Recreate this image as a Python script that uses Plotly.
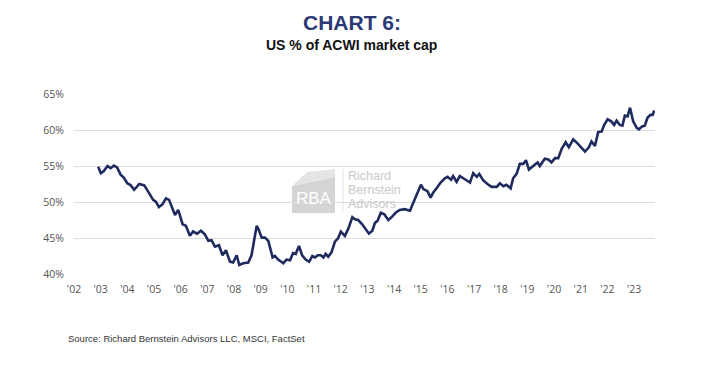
import plotly.graph_objects as go

# ---- data ----
dates = [
    "2002-11-28", "2003-01-04", "2003-02-14", "2003-04-04", "2003-05-17", "2003-07-01",
    "2003-08-14", "2003-10-01", "2003-11-14", "2004-01-01", "2004-02-14", "2004-04-04",
    "2004-06-13", "2004-08-21", "2004-10-15", "2004-12-20", "2005-01-26", "2005-03-09",
    "2005-04-28", "2005-06-13", "2005-07-26", "2005-09-13", "2005-10-15", "2005-11-28",
    "2006-01-28", "2006-03-13", "2006-05-07", "2006-06-20", "2006-08-14", "2006-10-05",
    "2006-11-28", "2007-01-15", "2007-02-28", "2007-04-15", "2007-06-09", "2007-07-28",
    "2007-09-13", "2007-11-07", "2007-12-20", "2008-02-07", "2008-03-13", "2008-05-07",
    "2008-07-15", "2008-08-28", "2008-11-07", "2008-11-28", "2009-01-15", "2009-02-28",
    "2009-04-15", "2009-06-13", "2009-07-15", "2009-08-28", "2009-11-07", "2009-12-20",
    "2010-02-07", "2010-03-20", "2010-04-26", "2010-06-09", "2010-07-22", "2010-09-09",
    "2010-10-26", "2010-12-09", "2011-01-15", "2011-02-21", "2011-04-04", "2011-05-10",
    "2011-06-09", "2011-07-15", "2011-08-28", "2011-10-15", "2011-11-28", "2012-01-04",
    "2012-01-26", "2012-02-28", "2012-04-15", "2012-06-09", "2012-07-15", "2012-08-28",
    "2012-10-22", "2012-12-09", "2013-01-22", "2013-03-09", "2013-04-15", "2013-05-21",
    "2013-07-04", "2013-08-21", "2013-10-15", "2013-12-09", "2014-01-22", "2014-03-20",
    "2014-05-28", "2014-08-07", "2014-09-20", "2014-11-21", "2015-01-04", "2015-02-07",
    "2015-04-04", "2015-05-17", "2015-06-20", "2015-08-07", "2015-10-01", "2015-11-28",
    "2016-01-04", "2016-02-21", "2016-03-20", "2016-05-07", "2016-06-20", "2016-08-07",
    "2016-11-07", "2016-12-20", "2017-02-07", "2017-03-13", "2017-05-07", "2017-07-04",
    "2017-08-28", "2017-11-07", "2017-12-20", "2018-02-07", "2018-03-20", "2018-05-17",
    "2018-06-20", "2018-08-07", "2018-09-20", "2018-11-07", "2018-12-13", "2019-01-22",
    "2019-03-20", "2019-05-21", "2019-06-20", "2019-08-28", "2019-10-15", "2019-11-28",
    "2020-01-15", "2020-02-28", "2020-04-15", "2020-06-09", "2020-07-22", "2020-09-20",
    "2020-11-21", "2021-01-04", "2021-02-28", "2021-04-22", "2021-05-28", "2021-07-15",
    "2021-08-28", "2021-10-15", "2021-11-17", "2022-01-04", "2022-02-21", "2022-04-04",
    "2022-05-07", "2022-06-20", "2022-07-26", "2022-08-28", "2022-10-05", "2022-11-07",
    "2022-12-20", "2023-02-07", "2023-03-09", "2023-04-22", "2023-05-28", "2023-07-04",
    "2023-08-14", "2023-09-13", "2023-10-05",
]
us_share = [
    54.9, 54.0, 54.3, 55.0, 54.7, 55.05,
    54.8, 53.8, 53.4, 52.6, 52.35, 51.7,
    52.5, 52.3, 51.4, 50.3, 50.05, 49.3,
    49.7, 50.5, 50.3, 49.1, 48.2, 48.9,
    46.9, 46.7, 45.3, 45.9, 45.6, 46.0,
    45.5, 44.6, 44.7, 43.8, 44.0, 42.6,
    43.3, 41.7, 41.6, 42.6, 41.25, 41.5,
    41.6, 42.6, 46.7, 46.3, 45.05, 45.05,
    44.6, 42.3, 42.5, 42.0, 41.5, 42.0,
    41.9, 42.9, 42.8, 43.9, 42.6, 42.0,
    41.7, 42.5, 42.3, 42.6, 42.6, 42.3,
    42.8, 42.4, 43.0, 44.5, 45.0, 45.9,
    45.6, 45.3, 46.3, 47.9, 47.6, 47.5,
    46.9, 46.2, 45.6, 46.0, 47.1, 47.4,
    48.5, 48.3, 47.5, 48.0, 48.5, 48.9,
    49.0, 48.8, 49.8, 51.4, 52.4, 51.8,
    51.5, 50.6, 51.3, 51.9, 52.7, 53.3,
    53.5, 53.1, 53.6, 52.8, 53.6, 53.3,
    52.7, 54.0, 53.5, 53.9, 53.0, 52.5,
    52.1, 52.1, 52.6, 52.2, 52.4, 51.9,
    53.3, 53.9, 55.3, 55.3, 55.8, 54.5,
    55.0, 55.5, 55.0, 56.0, 55.9, 55.5,
    56.1, 56.1, 57.4, 58.3, 57.6, 58.7,
    58.1, 57.6, 57.0, 57.6, 58.4, 57.8,
    59.7, 59.8, 60.7, 61.5, 61.2, 60.7,
    61.3, 60.7, 60.6, 62.0, 61.9, 63.1,
    61.2, 60.3, 60.1, 60.5, 60.6, 61.7,
    62.1, 62.1, 62.7,
]
y_ticks = [40, 45, 50, 55, 60, 65]
y_tick_labels = ["40%", "45%", "50%", "55%", "60%", "65%"]

title_text = "CHART 6:"
subtitle_text = "US % of ACWI market cap"
source_text = "Source: Richard Bernstein Advisors LLC, MSCI, FactSet"
logo_lines = ["Richard", "Bernstein", "Advisors"]

# ---- figure ----
OFF = 8  # page body margin offset
W, H = 703 - OFF, 376 - OFF
L, R, T, B = 74 - OFF, 48, 94 - OFF, 102
pw, ph = W - L - R, H - T - B


def px(x):
    return (x - OFF - L) / pw


def py(y):
    return (T + ph - (y - OFF)) / ph


fig = go.Figure()
fig.add_trace(go.Scatter(
    x=dates, y=us_share, mode="lines",
    line=dict(color="#1f2a5e", width=2.6, shape="linear"),
    hoverinfo="skip", showlegend=False,
))

narrow = "Liberation Sans Narrow, Arial Narrow, Liberation Sans, sans-serif"
tickfont = dict(family="Open Sans, Noto Sans, sans-serif", size=10.5, color="#555555")

fig.update_layout(
    width=W, height=H,
    margin=dict(l=L, r=R, t=T, b=B, pad=0),
    paper_bgcolor="white", plot_bgcolor="white",
    xaxis=dict(
        type="date", range=["2002-01-01", "2023-10-15"],
        tick0="2002-01-01", dtick="M12", tickformat="'%y",
        showgrid=False, zeroline=False, showline=False,
        ticks="", tickfont=tickfont, ticklabelstandoff=7,
        fixedrange=True, automargin=False,
    ),
    yaxis=dict(
        range=[40, 65], tickvals=y_ticks, ticktext=y_tick_labels,
        showgrid=True, gridcolor="#dcdcdc", gridwidth=1,
        zeroline=False, showline=False, ticks="",
        tickfont=tickfont, ticklabelstandoff=9,
        fixedrange=True, automargin=False,
    ),
    showlegend=False,
)

# watermark logo (layout shapes in paper coordinates)
fig.add_shape(type="path", xref="paper", yref="paper", layer="between",
              path=f"M {px(292)} {py(186)} L {px(335)} {py(177)} L {px(335)} {py(213)} L {px(292)} {py(213)} Z",
              fillcolor="#d4d4d4", line=dict(width=0))
fig.add_shape(type="path", xref="paper", yref="paper", layer="between",
              path=f"M {px(307)} {py(172)} L {px(335)} {py(169)} L {px(335)} {py(177)} L {px(292)} {py(186)} Z",
              fillcolor="#e4e4e4", line=dict(width=0))
fig.add_shape(type="line", xref="paper", yref="paper", layer="between",
              x0=px(343), x1=px(343), y0=py(169), y1=py(212),
              line=dict(color="#e2e2e2", width=1))
fig.add_annotation(x=px(314), y=py(198), xref="paper", yref="paper",
                   text="RBA", showarrow=False, xanchor="center", yanchor="middle",
                   font=dict(family="Liberation Sans, sans-serif", size=17, color="white"))
for i, t in enumerate(logo_lines):
    fig.add_annotation(x=px(346), y=py(176 + 14 * i), xref="paper", yref="paper",
                       text=t, showarrow=False, xanchor="left", yanchor="middle",
                       font=dict(family="Liberation Sans Narrow, Liberation Sans, sans-serif",
                                 size=12.5, color="#c9c9c9"))

# titles
fig.add_annotation(x=px(351.5), y=py(22), xref="paper", yref="paper",
                   text=f"<b>{title_text}</b>", showarrow=False,
                   xanchor="center", yanchor="middle",
                   font=dict(family=narrow, size=21, color="#2b3a74"))
fig.add_annotation(x=px(351.5), y=py(45), xref="paper", yref="paper",
                   text=f"<b>{subtitle_text}</b>", showarrow=False,
                   xanchor="center", yanchor="middle",
                   font=dict(family=narrow, size=14, color="#111111"))
fig.add_annotation(x=px(66), y=py(338), xref="paper", yref="paper",
                   text=source_text, showarrow=False,
                   xanchor="left", yanchor="middle",
                   font=dict(family=narrow, size=9.5, color="#333333"))

fig.write_html("out.html")
